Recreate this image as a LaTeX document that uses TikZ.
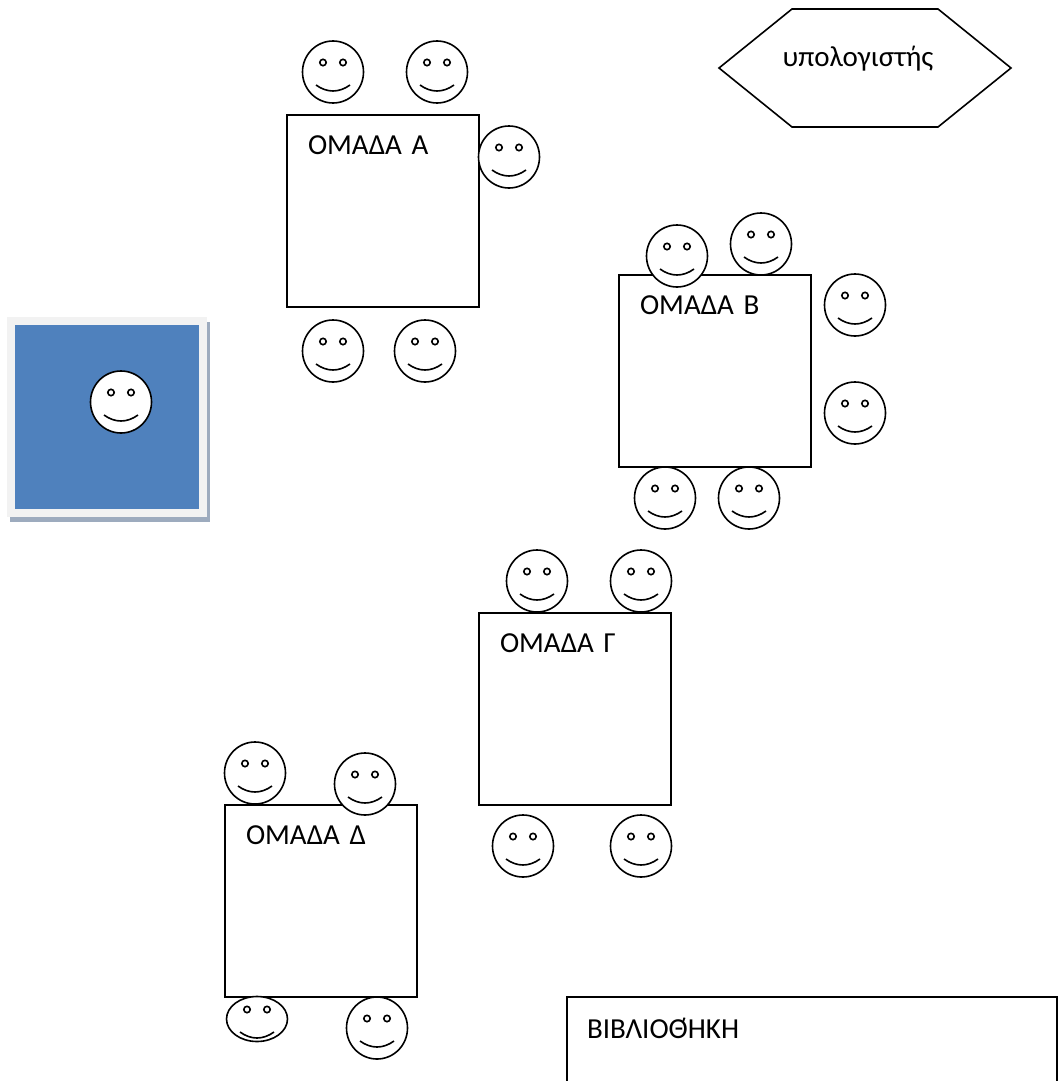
\documentclass[tikz,border=0pt]{standalone}
\usepackage{fontspec}
\setmainfont{Carlito}
\usetikzlibrary{shapes, positioning}
\definecolor{boardblue}{HTML}{4F81BD}
\definecolor{boardframe}{HTML}{F2F2F2}
\definecolor{boardshadow}{HTML}{9DABBE}

\tikzset{
  desk/.style={draw, line width=1.6pt, minimum size=192pt, inner sep=0pt},
  lbl/.style={text width=#1, align=left, inner sep=0pt},
  lbl/.default=130pt,
  face/.style={draw, fill=white, ellipse, line width=1.6pt, inner sep=0pt,
    minimum width=61pt, minimum height=#1,
    path picture={
      \begin{scope}[shift={(path picture bounding box.center)}, yscale=#1/62, line width=1.6pt]
        \draw (-10,-9.5) circle[radius=3.2pt];
        \draw (10,-9.5) circle[radius=3.2pt];
        \draw (-17,13) .. controls (-6,21) and (6,21) .. (17,13);
      \end{scope}
    }},
  face/.default=62pt
}

\begin{document}
\begin{tikzpicture}[x=1pt, y=-1pt, on grid, font=\fontsize{29}{34}\selectfont]
  \useasboundingbox (0,0) rectangle (1064,1081);
  \clip (0,0) rectangle (1064,1081);

  \node[desk] (deskA) at (383,211) {};
  \node[desk, below right=160pt and 332pt of deskA] (deskB) {};
  \node[desk, below left=338pt and 140pt of deskB] (deskC) {};
  \node[desk, below left=192pt and 254pt of deskC] (deskD) {};
  \node[draw, line width=1.6pt, minimum width=490pt, minimum height=150pt,
    below right=171pt and 491pt of deskD] (lib) {};

  \node[lbl, above left=66pt and 10pt of deskA] (labA) {ΟΜΑΔΑ Α};
  \node[lbl, above left=66pt and 10pt of deskB] (labB) {ΟΜΑΔΑ Β};
  \node[lbl, above left=66pt and 10pt of deskC] (labC) {ΟΜΑΔΑ Γ};
  \node[lbl, above left=66pt and 10pt of deskD] (labD) {ΟΜΑΔΑ Δ};
  \node[lbl=160pt, above left=44pt and 145pt of lib] (labL) {ΒΙΒΛΙΟΘ\llap{\char"0384}ΉΚΗ};

  \coordinate[above right=143pt and 482pt of deskA] (pc);
  \draw[shift={(pc)}, line width=1.6pt] (-146,0) -- (-73,-59) -- (73,-59) -- (146,0)
    -- (73,59) -- (-73,59) -- cycle;
  \node[above right=152pt and 475pt of deskA, inner sep=0pt] (labP) {υπολογιστής};

  % board
  \node[fill=boardshadow, minimum size=200pt, inner sep=0pt,
    below left=211pt and 273pt of deskA] (shd) {};
  \node[fill=boardframe, minimum size=200pt, inner sep=0pt,
    above left=5pt and 3pt of shd] (frame) {};
  \node[fill=boardblue, minimum size=184pt, inner sep=0pt, right=0pt of frame] (board) {};
  \node[face, above right=15pt and 14pt of board] (teacher) {};

  % group A
  \node[face, above left=139pt and 50pt of deskA] (a1) {};
  \node[face, above right=139pt and 54pt of deskA] (a2) {};
  \node[face, above right=54pt and 126pt of deskA] (a3) {};
  \node[face, below left=140pt and 50pt of deskA] (a4) {};
  \node[face, below right=140pt and 42pt of deskA] (a5) {};

  % group B
  \node[face, above left=115pt and 38pt of deskB] (b1) {};
  \node[face, above right=127pt and 46pt of deskB] (b2) {};
  \node[face, above right=66pt and 140pt of deskB] (b3) {};
  \node[face, below right=42pt and 140pt of deskB] (b4) {};
  \node[face, below left=127pt and 50pt of deskB] (b5) {};
  \node[face, below right=127pt and 34pt of deskB] (b6) {};

  % group C
  \node[face, above left=128pt and 38pt of deskC] (c1) {};
  \node[face, above right=128pt and 66pt of deskC] (c2) {};
  \node[face, below left=137pt and 52pt of deskC] (c3) {};
  \node[face, below right=137pt and 66pt of deskC] (c4) {};

  % group D
  \node[face, above left=128pt and 66pt of deskD] (d1) {};
  \node[face, above right=117pt and 44pt of deskD] (d2) {};
  \node[face=45pt, below left=118pt and 64pt of deskD] (d3) {};
  \node[face, below right=127pt and 56pt of deskD] (d4) {};
\end{tikzpicture}
\end{document}
